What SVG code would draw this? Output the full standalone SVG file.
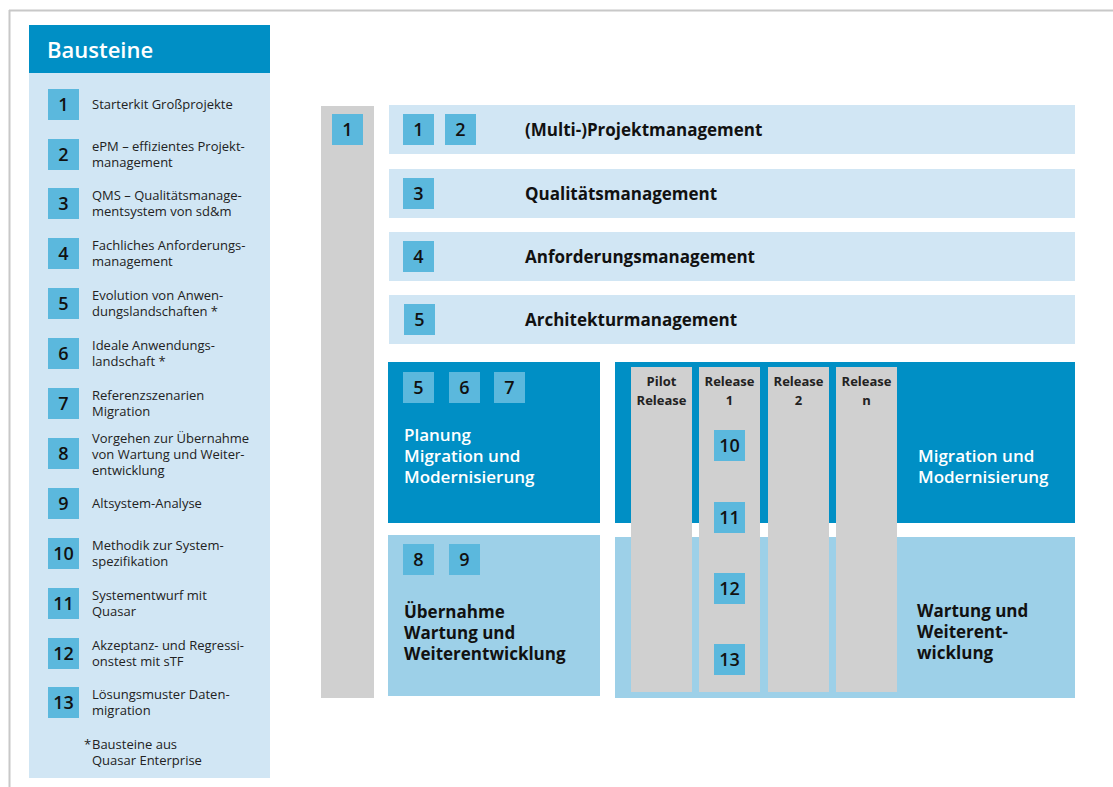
<svg xmlns="http://www.w3.org/2000/svg" width="1113" height="787" viewBox="0 0 1113 787">
<style>
.dk{fill:#008FC5}
.lt{fill:#D1E6F4}
.lb{fill:#9DD0E8}
.nb{fill:#5BB8DD}
.gr{fill:#D0D0D0}
text{font-family:"Open Sans","Noto Sans","Liberation Sans",sans-serif}
.num{font-size:18px;font-weight:600;fill:#111;text-anchor:middle}
.it{font-size:13px;fill:#222}
.row{font-size:17px;font-weight:700;fill:#111}
.wt{font-size:17px;font-weight:600;fill:#fff}
.bk{font-size:17px;font-weight:700;fill:#111}
.col{font-size:13px;font-weight:700;fill:#222;text-anchor:middle}
</style>
<rect width="1113" height="787" fill="#fff"/>
<g id="frame">
<line x1="9" y1="10.5" x2="1113" y2="10.5" stroke="#C8C8C8" stroke-width="2"/>
<line x1="9.5" y1="10" x2="9.5" y2="787" stroke="#C8C8C8" stroke-width="2"/>
</g>
<g id="sidebar">
<rect x="29" y="73" width="241" height="705" class="lt"/>
<rect x="29" y="25" width="241" height="48" class="dk"/>
<text x="47" y="58" style="font-size:22px;font-weight:600;fill:#fff">Bausteine</text>
<g id="b1"><rect x="48" y="89" width="31" height="31" class="nb"/><text x="63.5" y="111" class="num">1</text><text x="92" y="109" class="it">Starterkit Großprojekte</text></g>
<g id="b2"><rect x="48" y="139" width="31" height="31" class="nb"/><text x="63.5" y="161" class="num">2</text><text x="92" y="151" class="it">ePM – effizientes Projekt-</text><text x="92" y="167" class="it">management</text></g>
<g id="b3"><rect x="48" y="188" width="31" height="31" class="nb"/><text x="63.5" y="210" class="num">3</text><text x="92" y="200" class="it">QMS – Qualitätsmanage-</text><text x="92" y="216" class="it">mentsystem von sd&amp;m</text></g>
<g id="b4"><rect x="48" y="238" width="31" height="31" class="nb"/><text x="63.5" y="260" class="num">4</text><text x="92" y="250" class="it">Fachliches Anforderungs-</text><text x="92" y="266" class="it">management</text></g>
<g id="b5"><rect x="48" y="288" width="31" height="31" class="nb"/><text x="63.5" y="310" class="num">5</text><text x="92" y="300" class="it">Evolution von Anwen-</text><text x="92" y="316" class="it">dungslandschaften *</text></g>
<g id="b6"><rect x="48" y="338" width="31" height="31" class="nb"/><text x="63.5" y="360" class="num">6</text><text x="92" y="350" class="it">Ideale Anwendungs-</text><text x="92" y="366" class="it">landschaft *</text></g>
<g id="b7"><rect x="48" y="388" width="31" height="31" class="nb"/><text x="63.5" y="410" class="num">7</text><text x="92" y="400" class="it">Referenzszenarien</text><text x="92" y="416" class="it">Migration</text></g>
<g id="b8"><rect x="48" y="438" width="31" height="31" class="nb"/><text x="63.5" y="460" class="num">8</text><text x="92" y="443" class="it">Vorgehen zur Übernahme</text><text x="92" y="459" class="it">von Wartung und Weiter-</text><text x="92" y="475" class="it">entwicklung</text></g>
<g id="b9"><rect x="48" y="488" width="31" height="31" class="nb"/><text x="63.5" y="510" class="num">9</text><text x="92" y="508" class="it">Altsystem-Analyse</text></g>
<g id="b10"><rect x="48" y="538" width="31" height="31" class="nb"/><text x="63.5" y="560" class="num">10</text><text x="92" y="550" class="it">Methodik zur System-</text><text x="92" y="566" class="it">spezifikation</text></g>
<g id="b11"><rect x="48" y="588" width="31" height="31" class="nb"/><text x="63.5" y="610" class="num">11</text><text x="92" y="600" class="it">Systementwurf mit</text><text x="92" y="616" class="it">Quasar</text></g>
<g id="b12"><rect x="48" y="638" width="31" height="31" class="nb"/><text x="63.5" y="660" class="num">12</text><text x="92" y="650" class="it">Akzeptanz- und Regressi-</text><text x="92" y="666" class="it">onstest mit sTF</text></g>
<g id="b13"><rect x="48" y="687" width="31" height="31" class="nb"/><text x="63.5" y="709" class="num">13</text><text x="92" y="699" class="it">Lösungsmuster Daten-</text><text x="92" y="715" class="it">migration</text></g>
<text x="84" y="749" class="it">*</text><text x="92" y="749" class="it">Bausteine aus</text><text x="92" y="765" class="it">Quasar Enterprise</text>
</g>
<g id="bar1"><rect x="321" y="106" width="53" height="592" class="gr"/><rect x="332" y="114" width="31" height="31" class="nb"/><text x="347.5" y="136" class="num">1</text></g>
<g id="row1"><rect x="389" y="105" width="686" height="49" class="lt"/><rect x="403" y="114" width="31" height="31" class="nb"/><text x="418.5" y="136" class="num">1</text><rect x="445" y="114" width="31" height="31" class="nb"/><text x="460.5" y="136" class="num">2</text><text x="525" y="136" class="row">(Multi-)Projektmanagement</text></g>
<g id="row2"><rect x="389" y="169" width="686" height="49" class="lt"/><rect x="403" y="178" width="31" height="31" class="nb"/><text x="418.5" y="200" class="num">3</text><text x="525" y="200" class="row">Qualitätsmanagement</text></g>
<g id="row3"><rect x="389" y="232" width="686" height="49" class="lt"/><rect x="403" y="241" width="31" height="31" class="nb"/><text x="418.5" y="263" class="num">4</text><text x="525" y="263" class="row">Anforderungsmanagement</text></g>
<g id="row4"><rect x="389" y="295" width="686" height="49" class="lt"/><rect x="404" y="304" width="31" height="31" class="nb"/><text x="419.5" y="326" class="num">5</text><text x="525" y="326" class="row">Architekturmanagement</text></g>
<g id="planung"><rect x="388" y="362" width="212" height="161" class="dk"/>
<rect x="403" y="372" width="31" height="31" class="nb"/><text x="418.5" y="394" class="num">5</text>
<rect x="449" y="372" width="31" height="31" class="nb"/><text x="464.5" y="394" class="num">6</text>
<rect x="494" y="372" width="31" height="31" class="nb"/><text x="509.5" y="394" class="num">7</text>
<text x="404" y="441" class="wt">Planung</text><text x="404" y="462" class="wt">Migration und</text><text x="404" y="483" class="wt">Modernisierung</text></g>
<g id="uebernahme"><rect x="388" y="535" width="212" height="161" class="lb"/>
<rect x="403" y="544" width="31" height="31" class="nb"/><text x="418.5" y="566" class="num">8</text>
<rect x="449" y="544" width="31" height="31" class="nb"/><text x="464.5" y="566" class="num">9</text>
<text x="404" y="618" class="bk">Übernahme</text><text x="404" y="639" class="bk">Wartung und</text><text x="404" y="660" class="bk">Weiterentwicklung</text></g>
<g id="migration"><rect x="615" y="362" width="460" height="161" class="dk"/><text x="918" y="462" class="wt">Migration und</text><text x="918" y="483" class="wt">Modernisierung</text></g>
<g id="wartung"><rect x="615" y="537" width="460" height="161" class="lb"/><text x="917" y="617" class="bk">Wartung und</text><text x="917" y="638" class="bk">Weiterent-</text><text x="917" y="659" class="bk">wicklung</text></g>
<g id="pilot"><rect x="631" y="367" width="61" height="325" class="gr"/><text x="661.5" y="386" class="col">Pilot</text><text x="661.5" y="405" class="col">Release</text></g>
<g id="rel1"><rect x="699" y="367" width="61" height="325" class="gr"/><text x="729.5" y="386" class="col">Release</text><text x="729.5" y="405" class="col">1</text>
<rect x="714" y="430" width="31" height="31" class="nb"/><text x="729.5" y="452" class="num">10</text>
<rect x="714" y="502" width="31" height="31" class="nb"/><text x="729.5" y="524" class="num">11</text>
<rect x="714" y="573" width="31" height="31" class="nb"/><text x="729.5" y="595" class="num">12</text>
<rect x="714" y="644" width="31" height="31" class="nb"/><text x="729.5" y="666" class="num">13</text></g>
<g id="rel2"><rect x="768" y="367" width="61" height="325" class="gr"/><text x="798.5" y="386" class="col">Release</text><text x="798.5" y="405" class="col">2</text></g>
<g id="reln"><rect x="836" y="367" width="61" height="325" class="gr"/><text x="866.5" y="386" class="col">Release</text><text x="866.5" y="405" class="col">n</text></g>
<g id="connectors"></g>
</svg>
